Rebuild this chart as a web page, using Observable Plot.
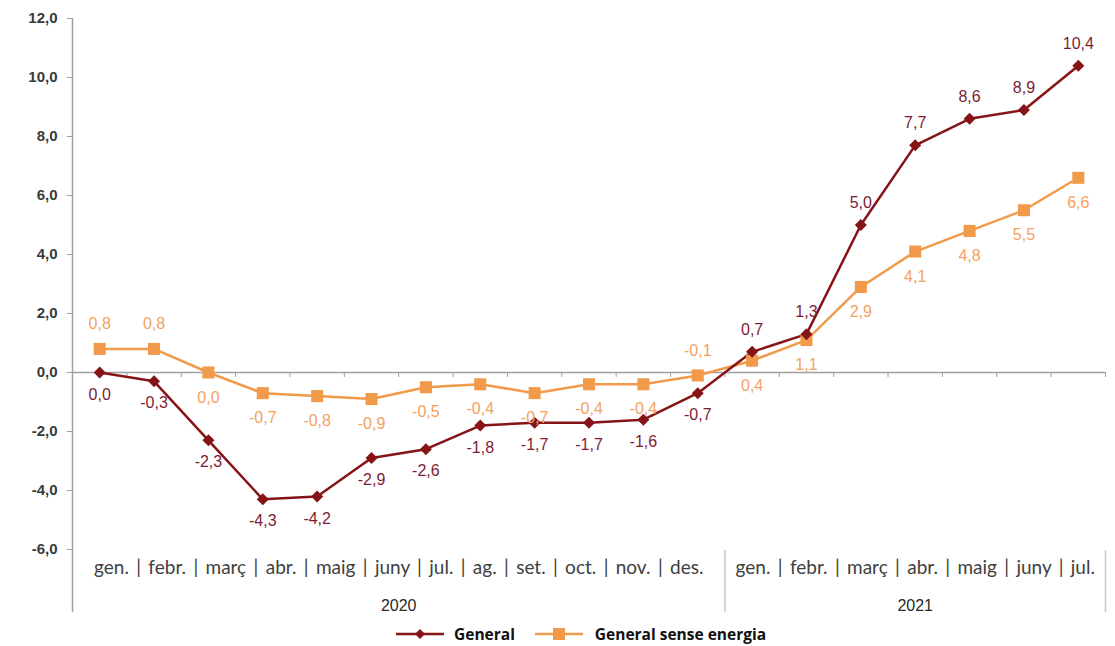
<!DOCTYPE html>
<html>
<head>
<meta charset="utf-8">
<script src="https://cdn.jsdelivr.net/npm/d3@7"></script>
<script src="https://cdn.jsdelivr.net/npm/@observablehq/plot@0.6"></script>
<style>
  html, body { margin: 0; padding: 0; background: #fff; }
  #chart { position: relative; width: 1115px; height: 646px; }
  #legend { position: absolute; top: 623px; left: 396px; display: flex; align-items: center;
            font-family: "Open Sans", sans-serif; font-weight: 700; font-size: 15.5px; color: #111; }
  #legend .item { display: flex; align-items: center; }
  #legend svg { display: block; }
</style>
</head>
<body>
<div id="chart"></div>
<script>
// ---- data ----
const months2020 = ["gen.", "febr.", "març", "abr.", "maig", "juny", "jul.", "ag.", "set.", "oct.", "nov.", "des."];
const months2021 = ["gen.", "febr.", "març", "abr.", "maig", "juny", "jul."];
const years = ["2020", "2021"];
const seriesNames = ["General", "General sense energia"];
const general = [0.0, -0.3, -2.3, -4.3, -4.2, -2.9, -2.6, -1.8, -1.7, -1.7, -1.6, -0.7, 0.7, 1.3, 5.0, 7.7, 8.6, 8.9, 10.4];
const senseEnergia = [0.8, 0.8, 0.0, -0.7, -0.8, -0.9, -0.5, -0.4, -0.7, -0.4, -0.4, -0.1, 0.4, 1.1, 2.9, 4.1, 4.8, 5.5, 6.6];
const yTicks = [-6, -4, -2, 0, 2, 4, 6, 8, 10, 12];

// ---- derived tables ----
const monthsByYear = [months2020, months2021];
const allMonths = months2020.concat(months2021);
const n = allMonths.length;
const rowsGeneral = general.map((v, i) => ({i, value: v, series: seriesNames[0]}));
const rowsSense = senseEnergia.map((v, i) => ({i, value: v, series: seriesNames[1]}));
let start = 0;
const yearRows = monthsByYear.map((ms, k) => {
  const r = {year: years[k], first: start, last: start + ms.length - 1, text: ms.join(" | ")};
  r.mid = (r.first + r.last) / 2;
  start += ms.length;
  return r;
});
const boundaries = d3.range(n).map(i => i + 0.5);
const yearEnds = yearRows.map(r => r.last + 0.5);

const fmt = d => d3.format(".1f")(d).replace("−", "-").replace(".", ",");

const cGen = "#861417", cGenLab = "#7c1d35";
const cOr = "#F09A4A", cOrLab = "#F3A262";
const grey = "#a0a0a0";
const font = "Liberation Sans, Arial, sans-serif";

const diamond = {
  draw(ctx, size) {
    const r = Math.sqrt(size / 2);
    ctx.moveTo(0, -r); ctx.lineTo(r, 0); ctx.lineTo(0, r); ctx.lineTo(-r, 0); ctx.closePath();
  }
};

// label placement rules
const genAbove = d => d.value > 0;
const senseAbove = d => d.i < 2 || (d.value < 0 && d.value > -0.2);

const chart = Plot.plot({
  width: 1115,
  height: 620,
  marginLeft: 72,
  marginRight: 10,
  marginTop: 18,
  marginBottom: 71,
  x: {domain: [-0.5, n - 0.5], axis: null},
  y: {domain: [-6, 12], axis: null},
  style: {background: "white", overflow: "visible"},
  marks: [
    Plot.ruleX([-0.5], {y1: 12, y2: -6, insetBottom: -63, stroke: grey, strokeWidth: 1.5}),
    Plot.ruleY(yTicks, {x1: -0.5, x2: -0.5, insetLeft: -5, stroke: grey}),
    Plot.axisY(yTicks, {tickSize: 5, tickPadding: 10, tickFormat: fmt, fontSize: 15, fontWeight: "bold",
      color: "#3a3a3a", strokeOpacity: 0, fontFamily: font, label: null}),
    Plot.ruleY([0], {stroke: grey, strokeWidth: 1.5}),
    Plot.ruleX(boundaries, {y1: 0, y2: 0, insetBottom: -5, stroke: grey}),
    Plot.ruleX(yearEnds, {y1: -6, y2: -6, insetTop: 1, insetBottom: -63, stroke: "#c8c8c8", strokeWidth: 1.5}),
    Plot.text(yearRows, {x: "mid", y: -6, dy: 18, text: "text", fontSize: 19, fill: "#404040",
      fontFamily: "Lato, sans-serif"}),
    Plot.text(yearRows, {x: "mid", y: -6, dy: 56, text: "year", fontSize: 16, fill: "#2a2a2a", fontFamily: font}),
    Plot.line(rowsSense, {x: "i", y: "value", stroke: cOr, strokeWidth: 2.5}),
    Plot.line(rowsGeneral, {x: "i", y: "value", stroke: cGen, strokeWidth: 2.5}),
    Plot.dot(rowsSense, {x: "i", y: "value", symbol: "square", r: 6.8, fill: cOr, stroke: null}),
    Plot.dot(rowsGeneral, {x: "i", y: "value", symbol: diamond, r: 4.8, fill: cGen, stroke: null}),
    Plot.text(rowsSense.filter(senseAbove), {x: "i", y: "value", text: d => fmt(d.value), dy: -25,
      fill: cOrLab, fontSize: 16, fontFamily: font}),
    Plot.text(rowsSense.filter(d => !senseAbove(d)), {x: "i", y: "value", text: d => fmt(d.value), dy: 25,
      fill: cOrLab, fontSize: 16, fontFamily: font}),
    Plot.text(rowsGeneral.filter(genAbove), {x: "i", y: "value", text: d => fmt(d.value), dy: -22,
      fill: cGenLab, fontSize: 16, fontFamily: font}),
    Plot.text(rowsGeneral.filter(d => !genAbove(d)), {x: "i", y: "value", text: d => fmt(d.value), dy: 22,
      fill: cGenLab, fontSize: 16, fontFamily: font})
  ]
});
// slightly wider word spacing for the month strings (Calibri-like spacing)
chart.querySelectorAll("text").forEach(t => {
  if (t.textContent.includes("|")) t.style.wordSpacing = "2.5px";
});
const root = document.getElementById("chart");
root.appendChild(chart);

// legend
const legend = document.createElement("div");
legend.id = "legend";
function swatch(color, shape) {
  const w = 48;
  const mark = shape === "diamond"
    ? `<path d="M${w/2},2 L${w/2+5},7 L${w/2},12 L${w/2-5},7 Z" fill="${color}"/>`
    : `<rect x="${w/2-6}" y="1" width="12" height="12" fill="${color}"/>`;
  return `<svg width="${w}" height="14"><line x1="0" x2="${w}" y1="7" y2="7" stroke="${color}" stroke-width="2.5"/>${mark}</svg>`;
}
legend.innerHTML =
  `<div class="item">${swatch(cGen, "diamond")}<span style="margin-left:10px">${seriesNames[0]}</span></div>` +
  `<div class="item" style="margin-left:20px">${swatch(cOr, "square")}<span style="margin-left:12px">${seriesNames[1]}</span></div>`;
root.appendChild(legend);
</script>
</body>
</html>
